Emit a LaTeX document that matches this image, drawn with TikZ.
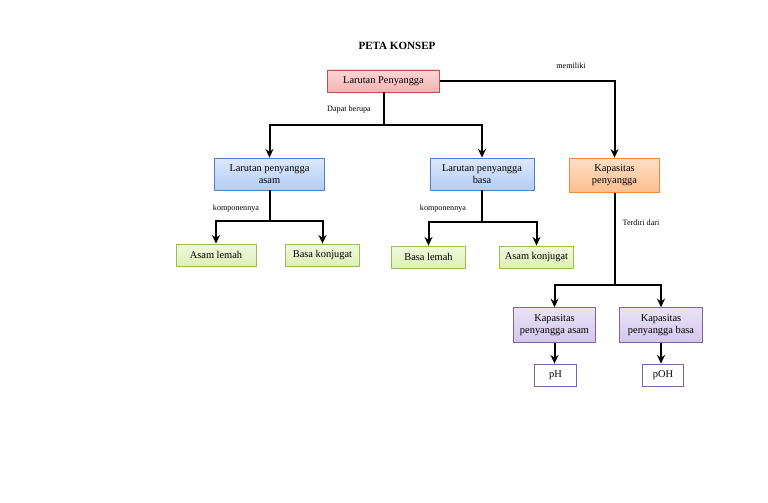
\documentclass[tikz,border=0pt]{standalone}
\usepackage{fontspec}
\setmainfont{Liberation Serif}
\usepackage{xcolor}
\usetikzlibrary{arrows.meta,calc,positioning}
\definecolor{RootFill}{HTML}{F6B3B3}
\definecolor{RootEdge}{HTML}{C0504D}
\definecolor{BlueFill}{HTML}{B3CDF5}
\definecolor{BlueEdge}{HTML}{4F81BD}
\definecolor{OrangeFill}{HTML}{FBBE8E}
\definecolor{OrangeEdge}{HTML}{E98A3F}
\definecolor{GreenFill}{HTML}{DDF0B6}
\definecolor{GreenEdge}{HTML}{9BBB59}
\definecolor{PurpleFill}{HTML}{D3C6EC}
\definecolor{PurpleEdge}{HTML}{8064A2}
\tikzset{
    conceptbox/.style={
        draw, line width=0.6pt,
        align=center,
        inner sep=1pt,
        font=\fontsize{7.8}{9}\selectfont
    },
    rootbox/.style={conceptbox, draw=RootEdge, top color=RootFill!55, bottom color=RootFill,
        minimum width=84pt, minimum height=16.5pt},
    bluebox/.style={conceptbox, draw=BlueEdge, top color=BlueFill!45, bottom color=BlueFill,
        minimum height=24pt},
    orangebox/.style={conceptbox, draw=OrangeEdge, top color=OrangeFill!50, bottom color=OrangeFill,
        minimum width=68pt, minimum height=26pt},
    greenbox/.style={conceptbox, draw=GreenEdge, top color=GreenFill!45, bottom color=GreenFill,
        minimum height=16.5pt},
    purplebox/.style={conceptbox, draw=PurpleEdge, top color=PurpleFill!50, bottom color=PurpleFill,
        minimum width=62pt, minimum height=26pt},
    valuebox/.style={conceptbox, draw=PurpleEdge, fill=white,
        minimum width=31pt, minimum height=16.5pt},
    linktext/.style={font=\fontsize{6.1}{7}\selectfont},
    link/.style={line width=1.5pt},
    arrowlink/.style={link, -{Stealth[length=6.5pt,width=6pt]}}
}

\begin{document}
\begin{tikzpicture}[x=0.75pt, y=-0.75pt]
    \useasboundingbox (0,0) rectangle (768,503);

    % judul
    \node[font=\fontsize{8.3}{9}\selectfont\bfseries] (title) at (397,46) {PETA KONSEP};

    % kotak konsep
    \node[rootbox] (root) at (383.5,81) {Larutan Penyangga};
    \node[bluebox, minimum width=83pt] (lpasam) at (269.5,174) {Larutan penyangga\\asam};
    \node[bluebox, minimum width=78pt] (lpbasa) at (482,174) {Larutan penyangga\\basa};
    \node[orangebox] (kap) at (614.5,175.5) {Kapasitas\\penyangga};

    \node[greenbox, minimum width=60pt] (asamlemah) at (216,255) {Asam lemah};
    \node[greenbox, minimum width=56pt] (basakonj) at (322.5,255) {Basa konjugat};
    \node[greenbox, minimum width=55pt] (basalemah) at (428.5,257) {Basa lemah};
    \node[greenbox, minimum width=56pt] (asamkonj) at (536.5,257) {Asam konjugat};

    \node[purplebox] (kapasam) at (554.5,325) {Kapasitas\\penyangga asam};
    \node[purplebox] (kapbasa) at (661,325) {Kapasitas\\penyangga basa};
    \node[valuebox] (ph) at (555.5,375) {pH};
    \node[valuebox] (poh) at (663,375) {pOH};

    % titik cabang
    \coordinate (jroot) at (383.5,125);
    \coordinate (jasam) at (269.5,221);
    \coordinate (jbasa) at (482,222);
    \coordinate (jkap) at (614.5,285);

    % penghubung
    \draw[link] (root) -- (jroot);
    \draw[arrowlink] (jroot) -| (lpasam);
    \draw[arrowlink] (jroot) -| (lpbasa);
    \draw[arrowlink] (root.east) -| (kap);

    \draw[link] (lpasam) -- (jasam);
    \draw[arrowlink] (jasam) -| (asamlemah);
    \draw[arrowlink] (jasam) -| (basakonj);

    \draw[link] (lpbasa) -- (jbasa);
    \draw[arrowlink] (jbasa) -| (basalemah);
    \draw[arrowlink] (jbasa) -| (asamkonj);

    \draw[link] (kap) -- (jkap);
    \draw[arrowlink] (jkap) -| (kapasam);
    \draw[arrowlink] (jkap) -| (kapbasa);

    \draw[arrowlink] (kapasam) -- (kapasam |- ph.north);
    \draw[arrowlink] (kapbasa) -- (kapbasa |- poh.north);

    % label penghubung
    \node[linktext] (lbldapat) at (349,110) {Dapat berupa};
    \node[linktext] (lblmemiliki) at (571,66) {memiliki};
    \node[linktext] (lblkomp1) at (236,209) {komponennya};
    \node[linktext] (lblkomp2) at (443,209) {komponennya};
    \node[linktext] (lblterdiri) at (641,223) {Terdiri dari};
\end{tikzpicture}
\end{document}
